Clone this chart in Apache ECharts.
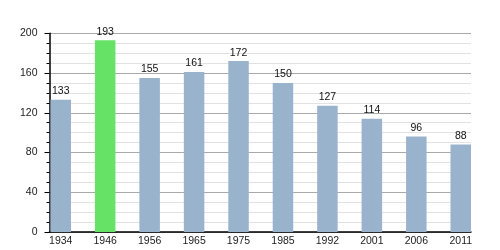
<!DOCTYPE html>
<html><head><meta charset="utf-8">
<script src="https://cdn.jsdelivr.net/npm/echarts@6/dist/echarts.min.js"></script>
<style>html,body{margin:0;padding:0;background:#fff}#c{width:500px;height:250px}</style>
</head><body><div id="c"></div>
<script>
const years = ['1934','1946','1956','1965','1975','1985','1992','2001','2006','2011'];
const population = [133,193,155,161,172,150,127,114,96,88];
const highlightYear = '1946';
const yTicks = [0,40,80,120,160,200];

const chart = echarts.init(document.getElementById('c'), null, {renderer:'canvas'});
const fontFam = 'Liberation Sans, Arial, sans-serif';
const gridTop = 33.3, gridBottom = 18;
chart.setOption({
  animation:false,
  grid:[
    {left:49.5, right:29, top:gridTop, bottom:gridBottom},
    {left:60.75, right:39.25, top:gridTop, bottom:gridBottom}
  ],
  xAxis:[
    {gridIndex:0, type:'value', min:0, max:1, show:true,
     axisLine:{show:true, onZero:false, lineStyle:{color:'#000', width:1.5}},
     axisTick:{show:false}, axisLabel:{show:false}, splitLine:{show:false}},
    {gridIndex:1, type:'category', data:years, boundaryGap:false,
     axisLine:{show:false}, axisTick:{show:false},
     axisLabel:{margin:4, color:'#222', fontSize:10.5, fontFamily:fontFam, interval:0}}
  ],
  yAxis:[
    {gridIndex:0, type:'value', min:yTicks[0], max:yTicks[yTicks.length-1], interval:40,
     axisLine:{show:true, lineStyle:{color:'#000', width:1.5}},
     axisTick:{show:true, length:5, lineStyle:{color:'#000'}},
     minorTick:{show:true, splitNumber:4, length:3, lineStyle:{color:'#000'}},
     axisLabel:{margin:12, color:'#222', fontSize:10.5, fontFamily:fontFam},
     splitLine:{show:true, lineStyle:{color:'#aaaaaa', width:1}},
     minorSplitLine:{show:true, lineStyle:{color:'#e2e2e2', width:1}}},
    {gridIndex:1, type:'value', min:0, max:200, show:false}
  ],
  series:[{
    type:'bar', xAxisIndex:1, yAxisIndex:1, barWidth:20.5,
    data: population.map((v,i)=>({value:v, itemStyle:{color: years[i]===highlightYear ? '#66e266' : '#9ab3cd'}})),
    label:{show:true, position:'top', distance:3, color:'#111', fontSize:10.5, fontFamily:fontFam}
  }]
});
</script></body></html>
